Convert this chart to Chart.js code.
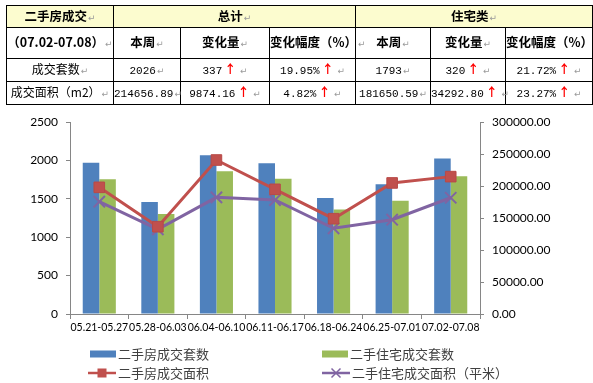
<!DOCTYPE html>
<html>
<head>
<meta charset="utf-8">
<script src="https://cdn.jsdelivr.net/npm/chart.js@4/dist/chart.umd.min.js"></script>
<style>
  html,body{margin:0;padding:0;background:#fff;}
  #wrap{position:relative;width:593px;height:383px;overflow:hidden;}
  #c{position:absolute;left:0;top:0;}
  #t{position:absolute;left:6px;top:5px;border-collapse:collapse;table-layout:fixed;width:586px;
     font-family:"Noto Sans CJK SC","Noto Sans",sans-serif;font-size:12px;color:#000;z-index:2;}
  #t td{border:1px solid #000;text-align:center;padding:0;white-space:nowrap;overflow:visible;box-sizing:border-box;line-height:14px;}
  #t tr.r0 td{height:22px;background:#fcfccf;font-weight:bold;font-size:12.5px;}
  #t tr.r1 td{height:31px;font-weight:bold;font-size:12.5px;}
  #t tr.r2 td{height:23px;}
  #t tr.r3 td{height:23px;}
  #t .num{font-family:"Liberation Mono",monospace;font-size:11px;}
  #t .pm{color:#9a9a9a;font-size:9px;font-weight:normal;font-family:"DejaVu Sans",sans-serif;margin-left:1px;}
  #t .up{color:#ff0000;font-weight:bold;font-size:12px;margin-left:2px;}
</style>
</head>
<body>
<div id="wrap">
  <canvas id="c" width="593" height="383"></canvas>
  <table id="t"></table>
</div>
<script>
// ---- table data ----
const headRow = ["二手房成交", "总计", "住宅类"];
const subHead = ["（07.02-07.08）", "本周", "变化量", "变化幅度（%）", "本周", "变化量", "变化幅度（%）"];
const rowNames = ["成交套数", "成交面积（m2）"];
const totalThisWeek = ["2026", "214656.89"];
const totalChange = ["337", "9874.16"];
const totalPct = ["19.95%", "4.82%"];
const residThisWeek = ["1793", "181650.59"];
const residChange = ["320", "34292.80"];
const residPct = ["21.72%", "23.27%"];

// ---- chart data ----
const categories = ["05.21-05.27","05.28-06.03","06.04-06.10","06.11-06.17","06.18-06.24","06.25-07.01","07.02-07.08"];
const houseCount = [1970, 1458, 2066, 1962, 1510, 1689, 2026];
const residCount = [1754, 1302, 1858, 1762, 1360, 1473, 1793];
const houseArea  = [197900, 136400, 240600, 194800, 148900, 204782.73, 214656.89];
const residArea  = [175500, 132300, 182300, 178100, 133900, 147357.79, 181650.59];
const seriesNames = ["二手房成交套数", "二手住宅成交套数", "二手房成交面积", "二手住宅成交面积（平米）"];

// build table
const PM = '<span class="pm">↵</span>';
const UP = '<span class="up">↑</span>';
const t = document.getElementById('t');
let html = '<colgroup><col style="width:107px"><col style="width:67px"><col style="width:89px"><col style="width:86px"><col style="width:75px"><col style="width:75px"><col style="width:87px"></colgroup>';
html += '<tr class="r0"><td>'+headRow[0]+PM+'</td><td colspan="3">'+headRow[1]+PM+'</td><td colspan="3">'+headRow[2]+PM+'</td></tr>';
html += '<tr class="r1">' + subHead.map(s=>'<td>'+s+PM+'</td>').join('') + '</tr>';
for (let i=0;i<rowNames.length;i++){
  html += '<tr class="r'+(i+2)+'"><td>'+rowNames[i]+PM+'</td>'
    + '<td><span class="num">'+totalThisWeek[i]+'</span>'+PM+'</td>'
    + '<td><span class="num">'+totalChange[i]+'</span>'+UP+' '+PM+'</td>'
    + '<td><span class="num">'+totalPct[i]+'</span>'+UP+' '+PM+'</td>'
    + '<td><span class="num">'+residThisWeek[i]+'</span>'+PM+'</td>'
    + '<td><span class="num">'+residChange[i]+'</span>'+UP+' '+PM+'</td>'
    + '<td><span class="num">'+residPct[i]+'</span>'+UP+' '+PM+'</td></tr>';
}
t.innerHTML = html;

const BLUE='#4f81bd', GREEN='#9bbb59', RED='#c0504d', PURPLE='#8064a2';
const AX='#868686';

const legendPlugin = {
  id:'gridLegend',
  afterDraw(chart){
    const ctx = chart.ctx;
    const pos = [[90,354],[322,354],[88,373],[322,373]];
    ctx.save();
    chart.data.datasets.forEach((ds,i)=>{
      const [x,y] = pos[i];
      let tx;
      if (ds.type==='bar'){
        ctx.fillStyle = ds.backgroundColor;
        ctx.fillRect(x, y-3.5, 26, 7);
        tx = x+28;
      } else {
        ctx.strokeStyle = ds.borderColor;
        ctx.lineWidth = 2.5;
        ctx.beginPath(); ctx.moveTo(x, y); ctx.lineTo(x+28, y); ctx.stroke();
        const cx = x+14;
        if (ds.pointStyle==='rect'){
          ctx.fillStyle = ds.pointBackgroundColor;
          ctx.fillRect(cx-4.5, y-4.5, 9, 9);
        } else {
          ctx.lineWidth = 1.5;
          ctx.beginPath();
          ctx.moveTo(cx-4.5,y-4.5); ctx.lineTo(cx+4.5,y+4.5);
          ctx.moveTo(cx-4.5,y+4.5); ctx.lineTo(cx+4.5,y-4.5);
          ctx.stroke();
        }
        tx = x+30;
      }
      ctx.fillStyle = '#404040';
      ctx.font = '13px "Noto Sans CJK SC"';
      ctx.textBaseline = 'middle';
      ctx.textAlign = 'left';
      ctx.fillText(ds.label, tx, y);
    });
    ctx.restore();
  }
};

const tickFont = {family:'Lato', size:12};

new Chart(document.getElementById('c'), {
  data: {
    labels: categories,
    datasets: [
      {type:'bar', label:seriesNames[0], data:houseCount, backgroundColor:BLUE, yAxisID:'y', order:2,
       categoryPercentage:0.565, barPercentage:1.0},
      {type:'bar', label:seriesNames[1], data:residCount, backgroundColor:GREEN, yAxisID:'y', order:3,
       categoryPercentage:0.565, barPercentage:1.0},
      {type:'line', label:seriesNames[2], data:houseArea, yAxisID:'y1', order:0,
       borderColor:RED, borderWidth:3, pointStyle:'rect', pointRadius:7.5,
       pointBackgroundColor:RED, pointBorderColor:'#b84a47', pointBorderWidth:1, tension:0},
      {type:'line', label:seriesNames[3], data:residArea, yAxisID:'y1', order:1,
       borderColor:PURPLE, borderWidth:3, pointStyle:'crossRot', pointRadius:8,
       pointBackgroundColor:PURPLE, pointBorderColor:PURPLE, pointBorderWidth:2, tension:0}
    ]
  },
  options: {
    responsive:false,
    animation:false,
    devicePixelRatio:1,
    layout:{padding:{top:122, bottom:39, left:0, right:0}},
    plugins:{legend:{display:false}, tooltip:{enabled:false}},
    scales:{
      x:{
        offset:true,
        grid:{display:true, offset:true, drawOnChartArea:false, drawTicks:true, tickLength:5, color:AX},
        border:{display:true, color:AX},
        ticks:{autoSkip:false, maxRotation:0, minRotation:0, padding:2, color:'#000', font:{family:'Lato', size:10.5}},
        afterFit(s){ s.height = 30; }
      },
      y:{
        position:'left', min:0, max:2500,
        grid:{display:true, drawOnChartArea:false, drawTicks:true, tickLength:4, color:AX},
        border:{display:true, color:AX},
        ticks:{stepSize:500, padding:8, color:'#000', font:tickFont, callback:v=>String(v)},
        afterFit(s){ s.width = 70; }
      },
      y1:{
        position:'right', min:0, max:300000,
        grid:{display:true, drawOnChartArea:false, drawTicks:true, tickLength:4, color:AX},
        border:{display:true, color:AX},
        ticks:{stepSize:50000, padding:8, color:'#000', font:tickFont, callback:v=>Number(v).toFixed(2)},
        afterFit(s){ s.width = 113; }
      }
    }
  },
  plugins:[legendPlugin]
});
</script>
</body>
</html>
